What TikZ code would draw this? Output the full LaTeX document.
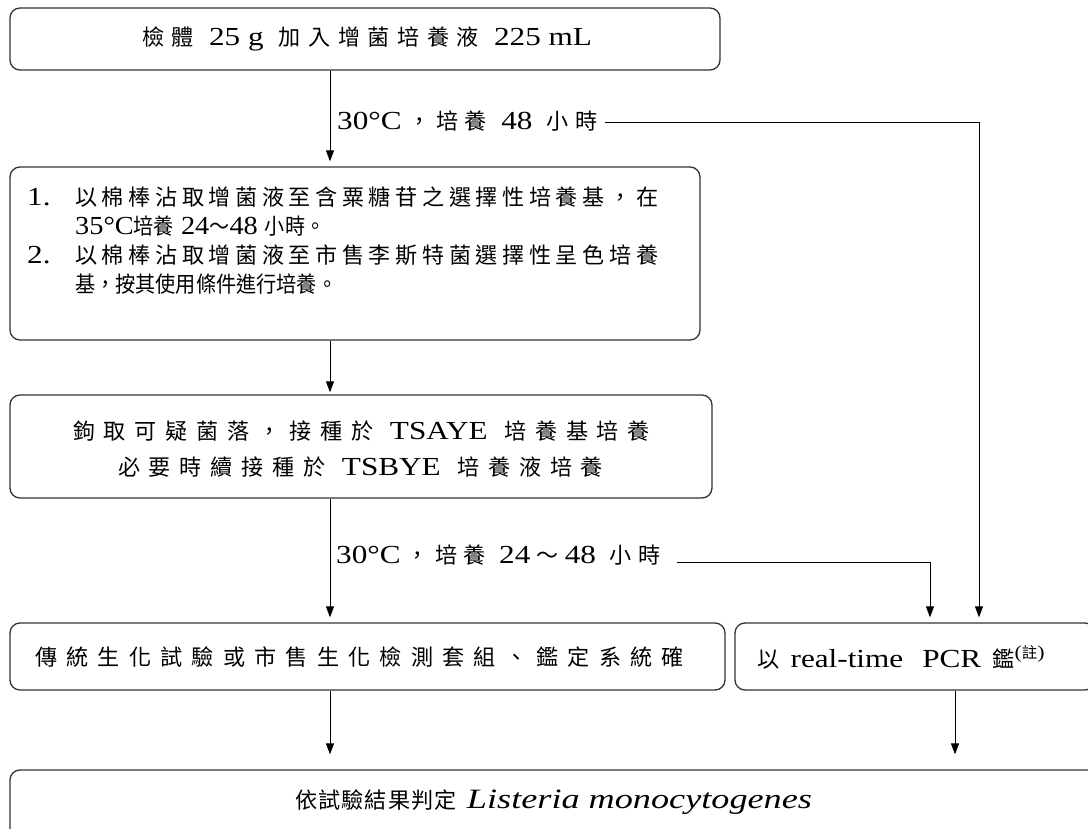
\documentclass[tikz,border=0pt]{standalone}
\usepackage{fontspec}
\usepackage{graphicx}
\setmainfont[FakeStretch=1.2]{Liberation Serif}
\newfontfamily\cjk[Scale=0.85]{Noto Sans CJK TC}
\newcommand\C[1]{{\cjk #1}}
% spread characters: insert \hfil between every token
\def\SPend{}
\def\SP#1{\SPa#1\SPend}
\def\SPa#1{#1\SPb}
\def\SPb#1{\ifx#1\SPend\else\hfil#1\expandafter\SPb\fi}
\newcommand\W[2]{\makebox[#1pt][s]{#2}}
\newcommand\fitw[2]{\resizebox{#1pt}{\height}{#2}}
\usetikzlibrary{arrows.meta}
\begin{document}
\begin{tikzpicture}[x=1pt,y=-1pt,
  box/.style={draw=black!80, line width=1.3pt, rounded corners=10pt, inner sep=0pt},
  arr/.style={-{Triangle[width=8pt,length=11pt]}, line width=1pt, black},
  txt/.style={inner sep=0pt, font=\fontsize{26}{31}\selectfont}]
\useasboundingbox (0,0) rectangle (1088,829);
\clip (0,0) rectangle (1088,829);
\fill[white] (0,0) rectangle (1088,829);

% boxes
\node[box, minimum width=710pt, minimum height=62pt] (b1) at (365,39) {};
\node[box, minimum width=690pt, minimum height=173pt] (b2) at (355,253.5) {};
\node[box, minimum width=702pt, minimum height=103pt] (b3) at (361,446.5) {};
\node[box, minimum width=715pt, minimum height=67pt] (b4) at (367.5,656.5) {};
\node[box, minimum width=360pt, minimum height=67pt] (b5) at (915,656.5) {};
\node[box, minimum width=1088pt, minimum height=70pt] (b6) at (554,805) {};

% texts
\node[txt] (t1) at (367,39) {\W{450}{\C{\SP{檢體}}\hfil\ 25 g\ \hfil\C{\SP{加入增菌培養液}}\hfil\ 225 mL}};

\node[txt, anchor=base west] (n1) at (27,206) {1.};
\node[txt, anchor=base west] (t21) at (75,206) {\W{583}{\C{\SP{以棉棒沾取增菌液至含粟糖苷之選擇性培養基，在}}}};
\node[txt, anchor=base west] (t22) at (75,235) {\fitw{250}{35°C\C{培養} 24\C{～}48 \C{小時。}}};
\node[txt, anchor=base west] (n2) at (27,264) {2.};
\node[txt, anchor=base west] (t23) at (75,264) {\W{583}{\C{\SP{以棉棒沾取增菌液至市售李斯特菌選擇性呈色培養}}}};
\node[txt, anchor=base west] (t24) at (75,293) {\fitw{262}{\C{基，按其使用條件進行培養。}}};

\node[txt] (t31) at (361.5,431) {\W{577}{\C{\SP{鉤取可疑菌落，接種於}}\hfil\ TSAYE\ \hfil\C{\SP{培養基培養}}}};
\node[txt] (t32) at (360.5,467) {\W{485}{\C{\SP{必要時續接種於}}\hfil\ TSBYE\ \hfil\C{\SP{培養液培養}}}};

\node[txt] (t4) at (359.5,657) {\W{649}{\C{\SP{傳統生化試驗或市售生化檢測套組、鑑定系統確}}}};
\node[txt, anchor=west] (t5) at (757,657) {\W{288}{\C{以}\hfil\ real-time\ \ \hfil PCR\ \hfil\C{鑑}\textsuperscript{(\C{註})}}};
\node[txt] (t6) at (553.5,802) {\W{517}{\C{\SP{依試驗結果判定}}\hfil\ \hfil\fitw{345}{\fontsize{28}{31}\selectfont\itshape Listeria monocytogenes}}};

% labels
\node[txt, anchor=west] (l1) at (337,121) {\W{260}{30°C\hfil\C{\SP{，培養}}\hfil\ 48\ \hfil\C{\SP{小時}}}};
\node[txt, anchor=west] (l2) at (336,555) {\W{324}{30°C\hfil\C{\SP{，培養}}\hfil\ 24\hfil\C{～}\hfil 48\ \hfil\C{\SP{小時}}}};

% connectors
\coordinate (xa) at (330,0);
\coordinate (xb) at (930,0);
\coordinate (xc) at (979,0);
\coordinate (xd) at (955,0);
\draw[arr, shorten >=5pt] (b1.south -| xa) -- (b2.north -| xa);
\draw[arr, shorten >=2pt] (b2.south -| xa) -- (b3.north -| xa);
\draw[arr, shorten >=5pt] (b3.south -| xa) -- (b4.north -| xa);
\draw[arr, shorten >=15pt] (b4.south -| xa) -- (b6.north -| xa);
\draw[arr, shorten >=15pt] (b5.south -| xd) -- (b6.north -| xd);
\draw[arr, shorten >=5pt] ([xshift=8pt,yshift=-2pt]l1.east) -| (b5.north -| xc);
\draw[arr, shorten >=5pt] ([xshift=17pt,yshift=-7pt]l2.east) -| (b5.north -| xb);
\end{tikzpicture}
\end{document}
